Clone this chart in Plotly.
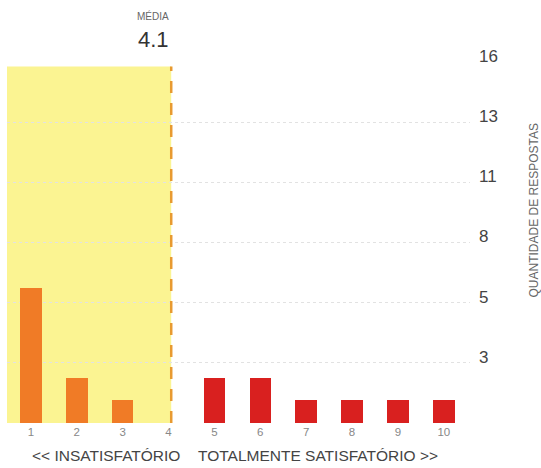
import plotly.graph_objects as go

scores = [1, 2, 3, 4, 5, 6, 7, 8, 9, 10]
counts = [6, 2, 1, 0, 2, 2, 1, 1, 1, 1]
bar_colors = ["#f07b26"] * 4 + ["#d9201f"] * 6
y_tickvals = [16, 13.333, 10.667, 8, 5.333, 2.667]
y_ticktext = ["16", "13", "11", "8", "5", "3"]
mean_value = sum(s * c for s, c in zip(scores, counts)) / sum(counts)

fig = go.Figure()
fig.add_trace(go.Bar(x=scores, y=counts, marker=dict(color=bar_colors, line=dict(width=0)),
                     width=0.47, hoverinfo="x+y"))

fig.add_shape(type="rect", xref="x", yref="y", x0=0.48, x1=mean_value, y0=0, y1=15.8,
              fillcolor="#fbf492", line=dict(width=0), layer="below")
fig.add_shape(type="line", xref="x", yref="y", x0=mean_value, x1=mean_value, y0=0, y1=15.8,
              line=dict(color="#e89a30", width=2.5, dash="12px,10px"), layer="above")

fig.add_annotation(x=mean_value, y=1, xref="x", yref="paper", yshift=38, text="MÉDIA",
                   showarrow=False, xanchor="right", yanchor="bottom",
                   font=dict(size=10, color="#666", family="Liberation Sans"))
fig.add_annotation(x=mean_value, y=1, xref="x", yref="paper", yshift=8,
                   text=f"{mean_value:.1f}", showarrow=False, xanchor="right", yanchor="bottom",
                   font=dict(size=22, color="#333", family="Liberation Sans"))
fig.add_annotation(x=4.3, y=0, xref="x", yref="paper", yshift=-32,
                   text="<< INSATISFATÓRIO", showarrow=False, xanchor="right", yanchor="middle",
                   font=dict(size=15.5, color="#444", family="Liberation Sans"))
fig.add_annotation(x=4.6, y=0, xref="x", yref="paper", yshift=-32,
                   text="TOTALMENTE SATISFATÓRIO >>", showarrow=False, xanchor="left", yanchor="middle",
                   font=dict(size=15.5, color="#444", family="Liberation Sans"))
fig.add_annotation(x=1, y=0.5, xref="paper", yref="paper", xshift=63, yshift=32,
                   text="QUANTIDADE DE RESPOSTAS", showarrow=False, textangle=-90,
                   xanchor="center", yanchor="middle",
                   font=dict(size=12, color="#666", family="Liberation Sans"))

fig.update_layout(
    width=541, height=468,
    margin=dict(l=7, r=71, t=62, b=45),
    paper_bgcolor="white", plot_bgcolor="white",
    showlegend=False, bargap=0,
    xaxis=dict(range=[0.48, 10.57], tickvals=scores, ticktext=[str(s) for s in scores],
               showgrid=False, zeroline=False, showline=False, ticks="",
               tickfont=dict(size=11.5, color="#888", family="Liberation Sans")),
    yaxis=dict(range=[0, 16], side="right", tickvals=y_tickvals, ticktext=y_ticktext,
               showgrid=True, gridcolor="#e2e2e2", griddash="dot", gridwidth=1,
               zeroline=False, showline=False, ticks="", ticklabelstandoff=8,
               ticklabelshift=-6,
               tickfont=dict(size=17, color="#444", family="Liberation Sans")),
)

fig.write_html("out.html", config={"displayModeBar": False},
               post_script="document.body.style.margin='0';")
